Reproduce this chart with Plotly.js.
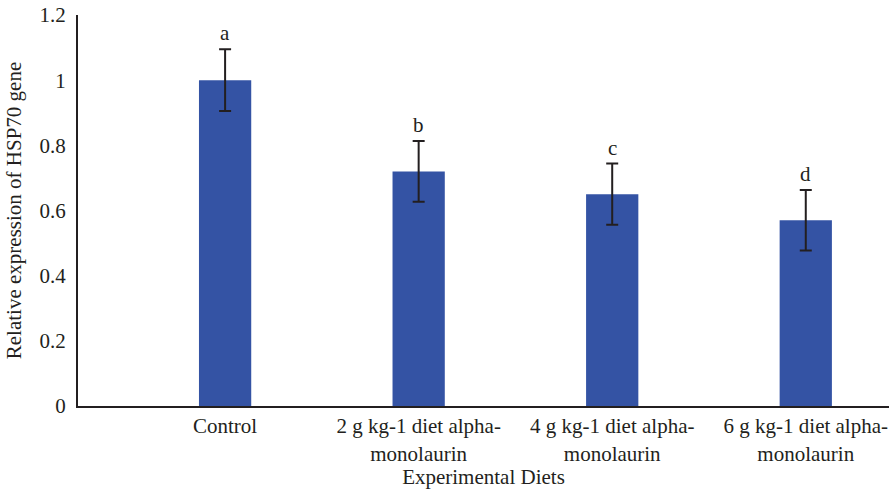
<!DOCTYPE html>
<html><head><meta charset="utf-8">
<script src="https://cdn.plot.ly/plotly-3.0.1.min.js"></script>
<style>html,body{margin:0;padding:0;background:#fff}#chart{width:890px;height:494px}</style>
</head><body><div id="chart"></div>
<script>
const categories = ["Control", "2 g kg-1 diet alpha-<br>monolaurin", "4 g kg-1 diet alpha-<br>monolaurin", "6 g kg-1 diet alpha-<br>monolaurin"];
const values = [1.0, 0.72, 0.65, 0.57];
const errors = [0.095, 0.093, 0.094, 0.093];
const letters = ["a", "b", "c", "d"];

const font = {family: "Liberation Serif, Times New Roman, serif", color: "#231f20"};
const trace = {
  type: "bar", x: categories, y: values,
  marker: {color: "#3453a4"},
  width: 0.27,
  error_y: {type: "data", array: errors, visible: true, color: "#231f20", thickness: 2, width: 6},
  hoverinfo: "skip"
};
const annotations = categories.map((c, i) => ({
  x: c, y: values[i] + errors[i], text: letters[i], showarrow: false,
  yanchor: "bottom", yshift: 2, font: Object.assign({size: 21}, font)
}));
const layout = {
  width: 890, height: 494,
  margin: {l: 78, r: 1, t: 15, b: 88},
  paper_bgcolor: "#fff", plot_bgcolor: "#fff",
  showlegend: false,
  font: Object.assign({size: 21}, font),
  xaxis: {
    range: [-0.76, 3.43], showline: true, linewidth: 2, linecolor: "#231f20",
    showgrid: false, ticks: "", zeroline: false,
    tickfont: Object.assign({size: 21}, font),
    title: {text: "Experimental Diets", font: Object.assign({size: 21}, font), standoff: 2}
  },
  yaxis: {
    range: [0, 1.2], dtick: 0.2, tick0: 0, showline: true, linewidth: 2, linecolor: "#231f20",
    showgrid: false, ticks: "", zeroline: false, ticklabelstandoff: 6,
    tickfont: Object.assign({size: 21}, font),
    title: {text: "Relative expression of HSP70 gene", font: Object.assign({size: 21}, font), standoff: 12}
  },
  annotations: annotations
};
Plotly.newPlot("chart", [trace], layout, {displayModeBar: false, staticPlot: true});
</script></body></html>
